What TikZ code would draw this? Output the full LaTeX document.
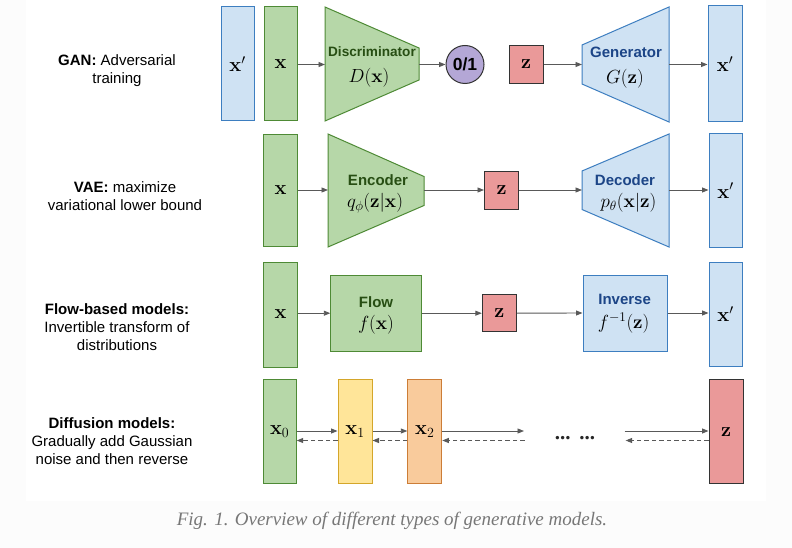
\RequirePackage{fix-cm}
\documentclass[tikz,border=0pt]{standalone}
\usepackage[no-math]{fontspec}
\setmainfont{Liberation Sans}
\newfontfamily\capfont{Liberation Serif}
\usetikzlibrary{arrows.meta}
\definecolor{gfill}{HTML}{B6D7A8}
\definecolor{gline}{HTML}{4E8A35}
\definecolor{gtext}{HTML}{274E13}
\definecolor{bfill}{HTML}{CFE2F3}
\definecolor{bline}{HTML}{3D7EC0}
\definecolor{btext}{HTML}{1C4587}
\definecolor{rfill}{HTML}{EA9999}
\definecolor{rline}{HTML}{333333}
\definecolor{yfill}{HTML}{FFE599}
\definecolor{yline}{HTML}{D4A62A}
\definecolor{ofill}{HTML}{F9CB9C}
\definecolor{oline}{HTML}{CC7D37}
\definecolor{pfill}{HTML}{B4A7D6}
\definecolor{arrgray}{HTML}{595959}
\definecolor{pagebg}{HTML}{FCFCFC}
\definecolor{captxt}{HTML}{777777}
\definecolor{dotcol}{HTML}{262626}
\tikzset{
  boxnode/.style={rectangle, line width=1pt, inner sep=0pt, font=\fontsize{20}{24}\selectfont},
  greenbox/.style={boxnode, draw=gline, fill=gfill},
  bluebox/.style={boxnode, draw=bline, fill=bfill},
  redbox/.style={boxnode, draw=rline, fill=rfill},
  yellowbox/.style={boxnode, draw=yline, fill=yfill},
  orangebox/.style={boxnode, draw=oline, fill=ofill},
  tallbox/.style={minimum width=33pt},
  zbox/.style={minimum width=34pt, minimum height=38pt},
  greentrap/.style={draw=gline, fill=gfill, line width=1pt, line join=miter},
  bluetrap/.style={draw=bline, fill=bfill, line width=1pt, line join=miter},
  gname/.style={font=\fontsize{15}{18}\selectfont\bfseries, text=gtext, inner sep=0pt},
  bname/.style={font=\fontsize{15}{18}\selectfont\bfseries, text=btext, inner sep=0pt},
  mathlbl/.style={font=\fontsize{19}{22}\selectfont, inner sep=0pt},
  rowlabel/.style={align=center, font=\fontsize{15}{18}\selectfont, inner sep=0pt},
  arr/.style={draw=arrgray, line width=0.9pt, -{Triangle[length=6.5pt,width=5pt]}},
  darr/.style={arr, dash pattern=on 4.5pt off 3pt},
}
\begin{document}
\begin{tikzpicture}[x=1pt,y=-1pt]
\fill[pagebg] (0,0) rectangle (792,548);
\fill[white] (26,0) rectangle (766,500.5);
\useasboundingbox (0,0) rectangle (792,548);

% ---------------- labels
\node[rowlabel] (lgan) at (117,70.5) {\textbf{GAN:} Adversarial\\training};
\node[rowlabel] (lvae) at (125,196.5) {\textbf{VAE:} maximize\\variational lower bound};
\node[rowlabel] (lflow) at (117,327) {\textbf{Flow-based models:}\\Invertible transform of\\distributions};
\node[rowlabel] (ldiff) at (112,441.5) {\textbf{Diffusion models:}\\Gradually add Gaussian\\noise and then reverse};

% ---------------- GAN
\node[bluebox, tallbox, minimum height=114pt] (gxp1) at (237.5,64) {$\mathbf{x}'$};
\node[greenbox, tallbox, minimum height=114pt] (gx) at (280.5,64) {$\mathbf{x}$};
\draw[greentrap] (325,7) -- (419,48) -- (419,80) -- (325,121) -- cycle;
\coordinate (discin) at (325,64.5);
\coordinate (discout) at (419,64.5);
\node[gname, font=\fontsize{13.6}{16}\selectfont\bfseries] (discname) at (372,51.5) {Discriminator};
\node[mathlbl] (discfn) at (369,77.5) {$D(\mathbf{x})$};
\node[circle, draw=rline, fill=pfill, line width=1pt, minimum size=38pt, inner sep=0pt,
      font=\fontsize{17.5}{20}\selectfont\bfseries] (gout) at (465,64.5) {0/1};
\node[redbox, zbox] (gz) at (526,64.5) {$\mathbf{z}$};
\draw[bluetrap] (582,45) -- (669,7) -- (669,122) -- (582,84) -- cycle;
\coordinate (genin) at (582,64.5);
\coordinate (genout) at (669,64.5);
\node[bname] (genname) at (626,52.5) {Generator};
\node[mathlbl] (genfn) at (625,78.5) {$G(\mathbf{z})$};
\node[bluebox, minimum width=34pt, minimum height=116pt] (gxp2) at (725,64) {$\mathbf{x}'$};
\draw[arr] (gx.east |- discin) -- (discin);
\draw[arr] (discout) -- (gout.west);
\draw[arr] (gz.east) -- (genin);
\draw[arr] (genout) -- (gxp2.west |- genout);

% ---------------- VAE
\node[greenbox, minimum width=34pt, minimum height=112pt] (vx) at (280.5,190.5) {$\mathbf{x}$};
\draw[greentrap] (328,134) -- (424,176.5) -- (424,205.5) -- (328,247) -- cycle;
\coordinate (encin) at (328,190);
\coordinate (encout) at (424,190);
\node[gname] (encname) at (378,180) {Encoder};
\node[mathlbl] (encfn) at (375,203) {$q_\phi(\mathbf{z}|\mathbf{x})$};
\node[redbox, zbox] (vz) at (501.5,190.3) {$\mathbf{z}$};
\draw[bluetrap] (582,171) -- (669,134) -- (669,247) -- (582,209.5) -- cycle;
\coordinate (decin) at (582,190);
\coordinate (decout) at (669,190);
\node[bname] (decname) at (625,180) {Decoder};
\node[mathlbl] (decfn) at (628.5,203) {$p_\theta(\mathbf{x}|\mathbf{z})$};
\node[bluebox, minimum width=33pt, minimum height=113pt] (vxp) at (725.5,190.5) {$\mathbf{x}'$};
\draw[arr] (vx.east |- encin) -- (encin);
\draw[arr] (encout) -- (vz.west |- encout);
\draw[arr] (vz.east |- decin) -- (decin);
\draw[arr] (decout) -- (vxp.west |- decout);

% ---------------- Flow
\node[greenbox, minimum width=34pt, minimum height=105pt] (fx) at (280.5,314.5) {$\mathbf{x}$};
\node[greenbox, minimum width=91pt, minimum height=76pt] (flow) at (376.3,313.2) {};
\node[gname] (flowname) at (376,302) {Flow};
\node[mathlbl] (flowfn) at (376,324.5) {$f(\mathbf{x})$};
\node[redbox, minimum width=34pt, minimum height=37pt] (fz) at (499.3,313.2) {$\mathbf{z}$};
\node[bluebox, minimum width=84pt, minimum height=76pt] (inv) at (625,313) {};
\node[bname] (invname) at (624.6,299.5) {Inverse};
\node[mathlbl] (invfn) at (623.7,323.5) {$f^{-1}(\mathbf{z})$};
\node[bluebox, minimum width=33pt, minimum height=104pt] (fxp) at (725.5,314) {$\mathbf{x}'$};
\draw[arr] (fx.east |- flow.west) -- (flow.west);
\draw[arr] (flow.east) -- (fz.west);
\draw[arr] (fz.east) -- (inv.west);
\draw[arr] (inv.east) -- (fxp.west |- inv.east);

% ---------------- Diffusion
\node[greenbox, minimum width=33pt, minimum height=104.5pt] (d0) at (279.7,431.7) {$\mathbf{x}_0$};
\node[yellowbox, minimum width=34pt, minimum height=104.5pt] (d1) at (355,431.7) {$\mathbf{x}_1$};
\node[orangebox, minimum width=34pt, minimum height=104.5pt] (d2) at (424.8,431.7) {$\mathbf{x}_2$};
\node[redbox, minimum width=34pt, minimum height=104.5pt] (dz) at (726,431.7) {$\mathbf{z}$};
\node[font=\fontsize{21}{24}\selectfont\capfont\bfseries, inner sep=0pt, text=dotcol, anchor=base] (dots) at (575,439) {...\hspace{9pt}...};
\coordinate (fwdend) at (524,431);
\coordinate (fwdstart) at (624.6,431);
\coordinate (revstart) at (524.6,440.5);
\coordinate (revend) at (625.6,440.5);
\draw[arr] (d0.east |- fwdend) -- (d1.west |- fwdend);
\draw[arr] (d1.east |- fwdend) -- (d2.west |- fwdend);
\draw[arr] (d2.east |- fwdend) -- (fwdend);
\draw[arr] (fwdstart) -- (dz.west |- fwdstart);
\draw[darr] (d1.west |- revstart) -- (d0.east |- revstart);
\draw[darr] (d2.west |- revstart) -- (d1.east |- revstart);
\draw[darr] (revstart) -- (d2.east |- revstart);
\draw[darr] (dz.west |- revend) -- (revend);

% ---------------- caption
\node[font=\fontsize{19}{22}\selectfont\capfont\itshape, text=captxt, inner sep=0pt] (caption) at (392,521)
  {Fig. 1. Overview of different types of generative models.};
\end{tikzpicture}
\end{document}
